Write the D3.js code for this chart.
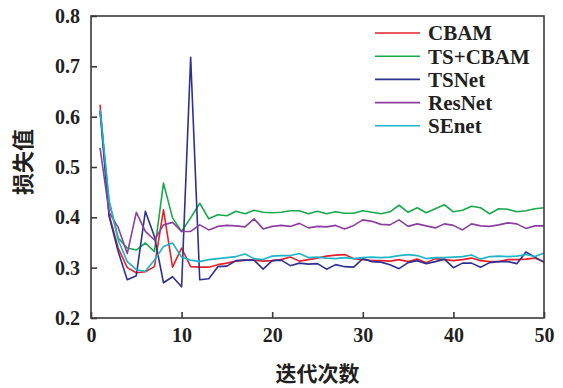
<!DOCTYPE html>
<html>
<head>
<meta charset="utf-8">
<script src="https://cdn.jsdelivr.net/npm/d3@7"></script>
<style>
  body { margin: 0; background: #fff; }
  .num { font-family: "Liberation Serif", "Times New Roman", serif; font-weight: bold; fill: #231f20; }
  .cjk { font-family: "Noto Sans CJK SC", sans-serif; font-weight: bold; fill: #231f20; }
</style>
</head>
<body>
<div id="chart"></div>
<script>
// data
var iters = d3.range(1, 51);
var seriesNames = ["CBAM", "TS+CBAM", "TSNet", "ResNet", "SEnet"];
var seriesColors = ["#e8202a", "#17a94b", "#2e3192", "#8b3f9f", "#1db4c9"];
var cbam = [0.624,0.405,0.339,0.300,0.290,0.292,0.302,0.415,0.301,0.339,
            0.302,0.301,0.301,0.306,0.309,0.313,0.315,0.315,0.313,0.314,
            0.316,0.321,0.313,0.316,0.319,0.323,0.325,0.326,0.318,0.316,
            0.314,0.314,0.313,0.316,0.312,0.317,0.310,0.318,0.316,0.314,
            0.316,0.319,0.314,0.312,0.312,0.316,0.316,0.317,0.319,0.311];
var tsCbam = [0.612,0.432,0.359,0.339,0.335,0.349,0.332,0.468,0.399,0.372,
              0.399,0.428,0.397,0.405,0.403,0.412,0.407,0.414,0.410,0.409,
              0.410,0.413,0.413,0.407,0.412,0.407,0.411,0.408,0.408,0.413,
              0.410,0.407,0.411,0.424,0.410,0.419,0.409,0.417,0.425,0.411,
              0.414,0.422,0.419,0.407,0.417,0.416,0.411,0.413,0.417,0.419];
var tsNet = [0.611,0.402,0.332,0.276,0.284,0.412,0.362,0.270,0.282,0.262,
             0.718,0.276,0.278,0.302,0.303,0.314,0.315,0.315,0.297,0.314,
             0.315,0.304,0.309,0.307,0.308,0.297,0.306,0.302,0.301,0.318,
             0.312,0.311,0.306,0.298,0.310,0.314,0.308,0.312,0.317,0.300,
             0.309,0.309,0.301,0.310,0.312,0.312,0.308,0.331,0.321,0.311];
var resNet = [0.538,0.410,0.380,0.328,0.410,0.372,0.355,0.385,0.390,0.372,
              0.372,0.385,0.375,0.382,0.384,0.383,0.381,0.397,0.377,0.382,
              0.384,0.382,0.388,0.379,0.382,0.381,0.384,0.377,0.384,0.395,
              0.392,0.386,0.385,0.395,0.382,0.387,0.383,0.379,0.387,0.384,
              0.375,0.387,0.383,0.382,0.385,0.389,0.387,0.378,0.383,0.383];
var seNet = [0.614,0.432,0.355,0.312,0.296,0.293,0.315,0.342,0.349,0.321,
             0.315,0.312,0.316,0.318,0.320,0.322,0.327,0.318,0.316,0.323,
             0.324,0.324,0.328,0.320,0.321,0.319,0.318,0.320,0.318,0.320,
             0.321,0.320,0.321,0.324,0.326,0.324,0.318,0.320,0.320,0.321,
             0.322,0.325,0.317,0.322,0.323,0.322,0.323,0.326,0.322,0.329];
var seriesValues = [cbam, tsCbam, tsNet, resNet, seNet];
var xTicks = [0, 10, 20, 30, 40, 50];
var yTicks = [0.2, 0.3, 0.4, 0.5, 0.6, 0.7, 0.8];

// set the dimensions and margins of the graph
var margin = {top: 16, right: 19, bottom: 70, left: 91},
    width = 563 - margin.left - margin.right,
    height = 388 - margin.top - margin.bottom;

var x = d3.scaleLinear().domain([0, 50]).range([0, width]);
var y = d3.scaleLinear().domain([0.2, 0.8]).range([height, 0]);

var svg = d3.select("#chart").append("svg")
    .attr("width", 563)
    .attr("height", 388)
  .append("g")
    .attr("transform", "translate(" + margin.left + "," + margin.top + ")");

// the lines
var valueline = d3.line()
    .x(function(d, i) { return x(iters[i]); })
    .y(function(d) { return y(d); });

seriesValues.forEach(function(vals, k) {
  svg.append("path")
    .datum(vals)
    .attr("fill", "none")
    .attr("stroke", seriesColors[k])
    .attr("stroke-width", 1.6)
    .attr("stroke-linejoin", "round")
    .attr("d", valueline);
});

// frame
svg.append("rect")
  .attr("width", width).attr("height", height)
  .attr("fill", "none").attr("stroke", "#3a3a3a").attr("stroke-width", 1.6);

// x axis, ticks pointing in
var xAxis = svg.append("g")
  .attr("transform", "translate(0," + height + ")")
  .call(d3.axisBottom(x).tickValues(xTicks).tickSizeInner(-6).tickSizeOuter(0).tickPadding(10));
xAxis.select(".domain").remove();
xAxis.selectAll(".tick line").attr("stroke", "#3a3a3a").attr("stroke-width", 1.6);
xAxis.selectAll(".tick text").attr("class", "num").attr("font-size", 20).attr("dy", "0.71em");

// y axis
var yAxis = svg.append("g")
  .call(d3.axisLeft(y).tickValues(yTicks).tickFormat(d3.format(".1f")).tickSizeInner(-6).tickSizeOuter(0).tickPadding(11));
yAxis.select(".domain").remove();
yAxis.selectAll(".tick line").attr("stroke", "#3a3a3a").attr("stroke-width", 1.6);
yAxis.selectAll(".tick text").attr("class", "num").attr("font-size", 20);

// axis titles
svg.append("text")
  .attr("class", "cjk")
  .attr("x", width / 2)
  .attr("y", height + 57)
  .attr("text-anchor", "middle")
  .attr("dominant-baseline", "middle")
  .attr("font-size", 21)
  .text("迭代次数");

svg.append("text")
  .attr("class", "cjk")
  .attr("transform", "translate(" + (25 - margin.left) + "," + (162 - margin.top) + ") rotate(-90)")
  .attr("text-anchor", "middle")
  .attr("dominant-baseline", "middle")
  .attr("font-size", 22)
  .text("损失值");

// legend
var legend = svg.append("g")
  .attr("transform", "translate(" + (375 - margin.left) + "," + (33 - margin.top) + ")");
seriesNames.forEach(function(name, k) {
  var row = legend.append("g").attr("transform", "translate(0," + (k * 23.2) + ")");
  row.append("line")
    .attr("x1", 0).attr("x2", 45)
    .attr("stroke", seriesColors[k]).attr("stroke-width", 1.6);
  row.append("text")
    .attr("class", "num")
    .attr("x", 53)
    .attr("dy", "0.35em")
    .attr("font-size", 21)
    .text(name);
});
</script>
</body>
</html>
